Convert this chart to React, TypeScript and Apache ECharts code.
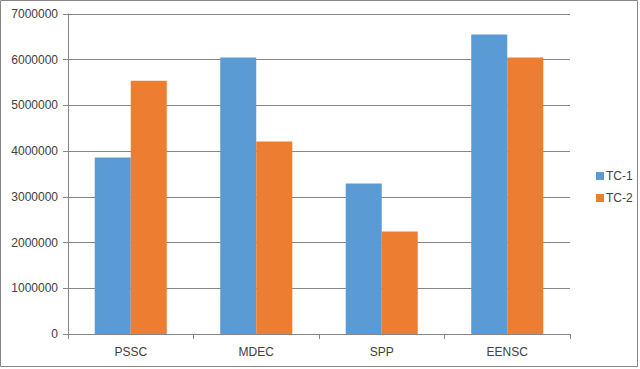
import React, { useEffect, useRef } from "react";
import * as echarts from "echarts";

const categories = ["PSSC", "MDEC", "SPP", "EENSC"];
const tc1 = [3860000, 6050000, 3290000, 6550000];
const tc2 = [5540000, 4210000, 2240000, 6050000];
const seriesNames = ["TC-1", "TC-2"];

export default function App() {
  const ref = useRef<HTMLDivElement>(null);
  useEffect(() => {
    if (!ref.current) return;
    const chart = echarts.init(ref.current, undefined, { renderer: "svg" });
    const font = "'Liberation Sans', Arial, sans-serif";
    chart.setOption({
      animation: false,
      backgroundColor: "#ffffff",
      textStyle: { fontFamily: font },
      graphic: [
        {
          type: "rect",
          x: 0,
          y: 0,
          shape: { x: 0.5, y: 0.5, width: 637, height: 366 },
          style: { fill: "none", stroke: "#868686", lineWidth: 1 },
          silent: true,
        },
      ],
      grid: { left: 68, right: 70, top: 14, bottom: 35, containLabel: false },
      legend: {
        orient: "vertical",
        left: 591,
        top: 165,
        itemWidth: 8,
        itemHeight: 8,
        itemGap: 10,
        icon: "rect",
        textStyle: { fontSize: 12, color: "#404040", fontFamily: font, padding: [0, 0, 0, -3] },
        data: seriesNames,
      },
      xAxis: {
        type: "category",
        data: categories,
        axisLine: { lineStyle: { color: "#868686", width: 1 } },
        axisTick: { show: true, length: 5, lineStyle: { color: "#868686" } },
        axisLabel: { fontSize: 12, color: "#404040", margin: 12, fontFamily: font },
      },
      yAxis: {
        type: "value",
        min: 0,
        max: 7000000,
        interval: 1000000,
        axisLine: { show: true, lineStyle: { color: "#868686", width: 1 } },
        axisTick: { show: true, length: 5, lineStyle: { color: "#868686" } },
        axisLabel: {
          fontSize: 12,
          color: "#404040",
          margin: 10,
          fontFamily: font,
          formatter: (v: number) => String(v),
        },
        splitLine: { lineStyle: { color: "#868686", width: 1 } },
      },
      series: [
        {
          name: seriesNames[0],
          type: "bar",
          data: tc1,
          itemStyle: { color: "#5B9BD5" },
          barGap: "0%",
          barCategoryGap: "42.6%",
        },
        {
          name: seriesNames[1],
          type: "bar",
          data: tc2,
          itemStyle: { color: "#ED7D31" },
          barGap: "0%",
          barCategoryGap: "42.6%",
        },
      ],
    });
    return () => chart.dispose();
  }, []);
  return (
    <div
      ref={ref}
      style={{ position: "fixed", left: 0, top: 0, width: 640, height: 369 }}
    />
  );
}
